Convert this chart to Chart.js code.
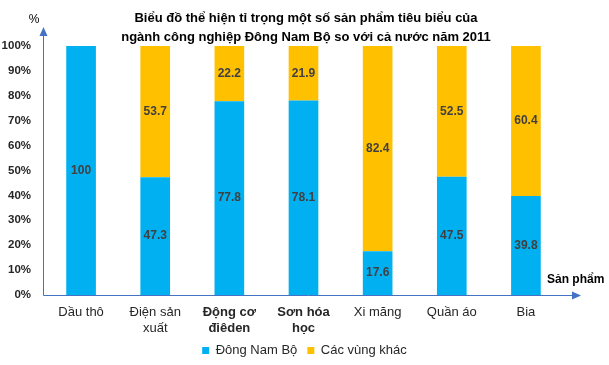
<!DOCTYPE html>
<html>
<head>
<meta charset="utf-8">
<script src="https://cdn.jsdelivr.net/npm/chart.js@4/dist/chart.umd.min.js"></script>
<style>
  html, body { margin: 0; padding: 0; background: #fff; }
  #wrap { width: 609px; height: 365px; position: relative; }
</style>
</head>
<body>
<div id="wrap"><canvas id="shareChart"></canvas></div>
<script>
const categories = ['Dầu thô', ['Điện sản', 'xuất'], ['Động cơ', 'điêden'], ['Sơn hóa', 'học'], 'Xi măng', 'Quần áo', 'Bia'];
const dongNamBo = [100, 47.3, 77.8, 78.1, 17.6, 47.5, 39.8];
const vungKhac = [0, 53.7, 22.2, 21.9, 82.4, 52.5, 60.4];
const titleLines = ['Biểu đồ thể hiện tỉ trọng một số sản phẩm tiêu biểu của', 'ngành công nghiệp Đông Nam Bộ so với cả nước năm 2011'];

const FONT = "'Liberation Sans', Arial, sans-serif";
const AXIS_COLOR = '#4472C4';

// value labels, centred in the visible part of each segment
const valueLabels = {
  id: 'valueLabels',
  afterDatasetsDraw(chart) {
    const ctx = chart.ctx;
    const area = chart.chartArea;
    ctx.save();
    ctx.font = 'bold 12px ' + FONT;
    ctx.fillStyle = '#404040';
    ctx.textAlign = 'center';
    ctx.textBaseline = 'middle';
    chart.data.datasets.forEach((ds, i) => {
      chart.getDatasetMeta(i).data.forEach((bar, j) => {
        const v = ds.data[j];
        if (!v) return;
        const top = Math.max(Math.min(bar.y, bar.base), area.top);
        const bottom = Math.min(Math.max(bar.y, bar.base), area.bottom);
        ctx.fillText(String(v), bar.x, (top + bottom) / 2);
      });
    });
    ctx.restore();
  }
};

// axis lines with arrows, title and axis names
const decorations = {
  id: 'decorations',
  afterDraw(chart) {
    const ctx = chart.ctx;
    const area = chart.chartArea;
    const x0 = area.left - 0.5;
    const y0 = area.bottom + 0.5;
    ctx.save();
    ctx.strokeStyle = AXIS_COLOR;
    ctx.fillStyle = AXIS_COLOR;
    ctx.lineWidth = 1;
    ctx.beginPath();
    ctx.moveTo(x0, y0);
    ctx.lineTo(x0, 34);
    ctx.moveTo(x0, y0);
    ctx.lineTo(574, y0);
    ctx.stroke();
    // arrow heads
    ctx.beginPath();
    ctx.moveTo(x0, 27);
    ctx.lineTo(x0 - 4, 36);
    ctx.lineTo(x0 + 4, 36);
    ctx.closePath();
    ctx.fill();
    ctx.beginPath();
    ctx.moveTo(581, y0);
    ctx.lineTo(572, y0 - 4);
    ctx.lineTo(572, y0 + 4);
    ctx.closePath();
    ctx.fill();

    ctx.fillStyle = '#000';
    ctx.textBaseline = 'middle';
    ctx.textAlign = 'center';
    ctx.font = 'bold 13px ' + FONT;
    ctx.fillText(titleLines[0], 306, 18);
    ctx.fillText(titleLines[1], 306, 37);

    ctx.font = '12px ' + FONT;
    ctx.fillText('%', 34, 20);

    ctx.textAlign = 'left';
    ctx.font = 'bold 12px ' + FONT;
    ctx.fillText('Sản phẩm', 547, 280);
    ctx.restore();
  }
};

const ctx = document.getElementById('shareChart').getContext('2d');
const chart = new Chart(ctx, {
  type: 'bar',
  data: {
    labels: categories,
    datasets: [
      {
        label: 'Đông Nam Bộ',
        data: dongNamBo,
        backgroundColor: '#00B0F0',
        clip: 0
      },
      {
        label: 'Các vùng khác',
        data: vungKhac,
        backgroundColor: '#FFC000',
        clip: 0
      }
    ]
  },
  options: {
    responsive: true,
    maintainAspectRatio: false,
    animation: false,
    devicePixelRatio: 1,
    layout: {
      padding: { left: 0, right: 0, top: 46, bottom: -2 }
    },
    datasets: {
      bar: {
        barPercentage: 0.4,
        categoryPercentage: 1.0
      }
    },
    plugins: {
      title: { display: false },
      tooltip: { enabled: false },
      legend: {
        position: 'bottom',
        labels: {
          boxWidth: 7,
          boxHeight: 7,
          padding: 10,
          color: '#262626',
          font: { family: FONT, size: 13 }
        }
      }
    },
    scales: {
      x: {
        stacked: true,
        grid: { display: false, drawTicks: false },
        border: { display: false },
        ticks: {
          padding: 9,
          maxRotation: 0,
          autoSkip: false,
          color: '#262626',
          font: function(c) {
            const bold = c.index === 2 || c.index === 3;
            return { family: FONT, size: 13, weight: bold ? 'bold' : 'normal', lineHeight: 1.25 };
          }
        },
        afterFit(scale) { scale.height = 39; }
      },
      y: {
        stacked: true,
        min: 0,
        max: 100,
        grid: { display: false, drawTicks: false },
        border: { display: false },
        ticks: {
          stepSize: 10,
          padding: 13,
          color: '#262626',
          font: { family: FONT, size: 11.5, weight: 'bold' },
          callback: function(value) { return value + '%'; }
        },
        afterFit(scale) { scale.width = 44; }
      },
      // empty right axis, only reserves the space right of the bars
      yRight: {
        position: 'right',
        grid: { display: false, drawTicks: false },
        border: { display: false },
        ticks: { display: false },
        afterFit(scale) { scale.width = 46; }
      }
    }
  },
  plugins: [valueLabels, decorations]
});
</script>
</body>
</html>
